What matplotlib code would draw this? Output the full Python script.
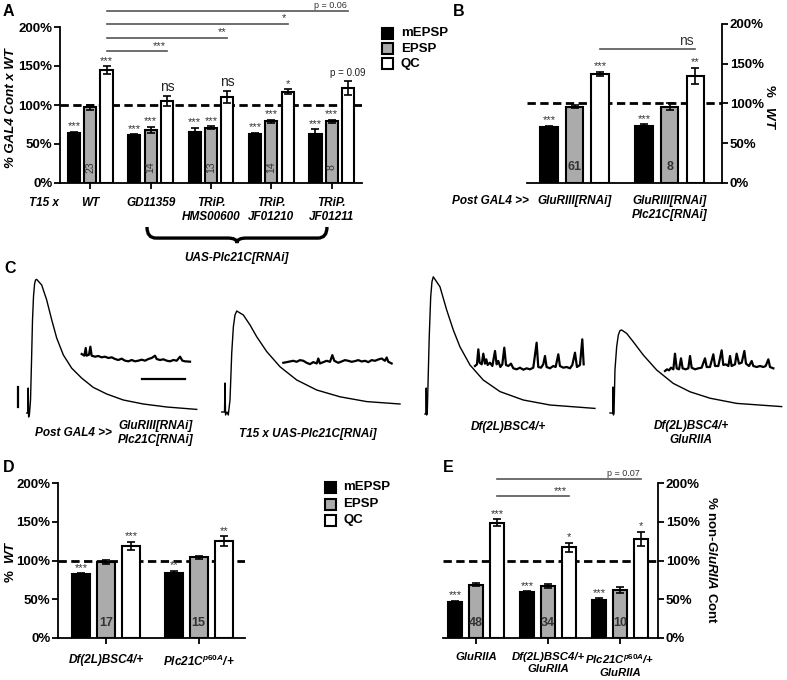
import numpy as np
import matplotlib
matplotlib.use('Agg')
import matplotlib.pyplot as plt
from matplotlib.path import Path
from matplotlib.patches import PathPatch, Rectangle
from matplotlib import transforms

plt.rcParams['font.family'] = ['Liberation Sans', 'DejaVu Sans']
plt.rcParams['font.weight'] = 'bold'
plt.rcParams['mathtext.fontset'] = 'custom'
plt.rcParams['mathtext.rm'] = 'Liberation Sans:bold'
plt.rcParams['mathtext.it'] = 'Liberation Sans:italic:bold'
plt.rcParams['mathtext.bf'] = 'Liberation Sans:bold'

# ---------------- data ----------------
series = ['mEPSP', 'EPSP', 'QC']
colors = ['black', '#ababab', 'white']
yticks = [0, 50, 100, 150, 200]
ytick_labels = ['0%', '50%', '100%', '150%', '200%']

# Panel A
A_groups = ['WT', 'GD11359', 'TRiP.\nHMS00600', 'TRiP.\nJF01210', 'TRiP.\nJF01211']
A_mepsp = [64, 61, 66, 63, 63]
A_mepsp_err = [2, 1.5, 5, 1.5, 6]
A_epsp = [97, 68, 71, 79, 79]
A_epsp_err = [3, 4, 2, 2, 2]
A_qc = [145, 105, 110, 117, 122]
A_qc_err = [5, 6, 8, 3, 9]
A_n = ['23', '14', '13', '14', '8']
A_sig_mepsp = ['***', '***', '***', '***', '***']
A_sig_epsp = [None, '***', '***', '***', '***']
A_sig_qc = ['***', 'ns', 'ns', '*', 'p = 0.09']
A_cmp_targets = [1, 2, 3, 4]
A_cmp_labels = ['***', '**', '*', 'p = 0.06']
A_cmp_heights = [169, 186, 204, 220]

# Panel B
B_groups = ['GluRIII[RNAi]', 'GluRIII[RNAi]\nPlc21C[RNAi]']
B_mepsp = [71, 72]
B_mepsp_err = [1, 2]
B_epsp = [96, 96]
B_epsp_err = [1.5, 4]
B_qc = [137, 135]
B_qc_err = [3, 10]
B_n = ['61', '8']
B_sig_mepsp = ['***', '***']
B_sig_epsp = [None, None]
B_sig_qc = ['***', '**']

# Panel D
D_groups = ['Df(2L)BSC4/+', r'Plc21C$^{\mathit{p60A}}$/+']
D_mepsp = [82, 84]
D_mepsp_err = [1.5, 3]
D_epsp = [98, 104]
D_epsp_err = [3, 2]
D_qc = [119, 125]
D_qc_err = [5, 6]
D_n = ['17', '15']
D_sig_mepsp = ['***', '**']
D_sig_epsp = [None, None]
D_sig_qc = ['***', '**']

# Panel E
E_groups = ['GluRIIA', 'Df(2L)BSC4/+\nGluRIIA', 'Plc21C$^{\\mathit{p60A}}$/+\nGluRIIA']
E_mepsp = [47, 59, 49]
E_mepsp_err = [1, 1.5, 2]
E_epsp = [69, 67, 62]
E_epsp_err = [1.5, 3, 4]
E_qc = [149, 117, 128]
E_qc_err = [4, 6, 9]
E_n = ['48', '34', '10']
E_sig_mepsp = ['***', '***', '***']
E_sig_epsp = [None, None, None]
E_sig_qc = ['***', '*', '*']

# Panel C traces: time (ms) from stimulus, voltage (mV) from baseline
tr1_t = [-1.5, -0.2, 0.2, 0.7, 1.7, 2.9, 4.1, 5.2, 6.4, 7.6, 8.7, 10.1, 15.9, 21.7, 27.6, 33.4, 41.1, 50.8, 62.5, 75.9, 91.5, 110.8, 134.1, 161.3, 196.2]
tr1_v = [0, 0, 6.25, -1.0, -0.25, 3.25, 13.25, 23.25, 29.25, 32.25, 33.25, 33.4, 32.0, 28.25, 23.25, 18.7, 14.5, 11.2, 8.7, 6.4, 4.75, 3.25, 2.25, 1.5, 0.9]
tr2_t = [-3.8, -0.6, 0.0, 0.6, 2.3, 3.8, 5.8, 7.8, 9.7, 11.6, 13.6, 21.3, 29.1, 36.9, 48.5, 64.0, 83.4, 106.6, 133.7, 164.8, 203.5]
tr2_v = [0, 0, 7.25, -0.75, 0, -0.75, 3.0, 14.75, 21.3, 24.25, 25.25, 24.25, 21.75, 18.8, 15.1, 11.3, 8.0, 5.5, 3.8, 2.6, 2.0]
tr3_t = [-1.2, -0.1, 0.3, 0.8, 1.5, 3.8, 5.5, 7.0, 8.5, 16.3, 24.1, 31.8, 39.5, 51.2, 66.6, 86.1, 113.2, 144.2, 196.5]
tr3_v = [0, 0, 6.5, -0.25, 0.2, 19.3, 29.3, 33.1, 34.3, 31.8, 26.0, 21.0, 16.8, 12.25, 8.5, 5.6, 3.5, 2.25, 1.4]
tr4_t = [-3.5, -0.3, 0.0, 0.5, 1.2, 2.3, 4.3, 6.2, 8.1, 10.1, 15.9, 23.6, 35.2, 50.8, 70.1, 89.6, 112.8, 143.9, 196.2]
tr4_v = [0, 0, 6.5, -0.5, 0, 10.75, 16.6, 19.5, 20.6, 20.75, 19.9, 17.8, 14.5, 10.75, 7.4, 5.3, 3.7, 2.4, 1.6]

mini1_t = [0, 3.1, 4.7, 5.8, 8.5, 10.1, 11.6, 15.5, 19.4, 23.3, 27.1, 31, 34.9, 38.8, 42.6, 46.5, 50.4, 54.3, 58.2, 62, 65.9, 69.8, 73.7, 77.5, 81.4, 85.3, 87.2, 91.1, 95, 98.9, 102.7, 106.6, 110.5, 114.4, 117.1, 120.2, 126]
mini1_v = [0, -0.42, 1.5, -0.42, -0.17, 1.83, -0.42, -0.67, -0.5, -0.83, -0.67, -1, -0.83, -1.25, -1.5, -1.17, -1.67, -1.83, -1.5, -1.83, -1.67, -1.42, -1.67, -1.25, -1, -0.42, -1.25, -1.5, -1.33, -1.67, -1.83, -1.5, -1.67, -0.67, -1.67, -1.83, -1.92]
mini2_t = [0, 5.8, 11.6, 15.5, 19.4, 23.3, 27.1, 31, 34.9, 38.8, 40.7, 42.6, 46.5, 50.4, 54.3, 57, 59.3, 63.9, 67.8, 71.7, 75.5, 79.4, 83.3, 87.2, 91.1, 95, 98.9, 102.7, 106.6, 110.5, 114.4, 118.2, 120.2, 122.1, 126]
mini2_v = [0, 0.25, 0.5, 0.25, 0.67, 0.5, 0, -0.33, 0.17, -0.17, 1.08, -0.17, 0.17, 0.5, 0.25, 1.92, 0.5, 0, 0.33, 0.67, 0.5, 0.25, 0.42, 0.67, 0.33, 0.5, 0.17, 0.67, 0.5, 0.83, 1.08, 0.5, 1.33, 0.25, -0.17]
mini3_t = [0, 2.3, 3.9, 5.4, 7.8, 9.7, 11.6, 13.2, 14.7, 17.4, 20.2, 23.3, 25.2, 27.1, 29.5, 31.8, 34.1, 36.1, 38.8, 41.9, 44.6, 48.5, 52.3, 56.2, 60.1, 64, 67.8, 71.7, 73.6, 76.8, 79.4, 81.4, 83.3, 87.2, 91.1, 93.8, 96.9, 98.8, 102.7, 106.6, 110.5, 113.2, 116.3, 118.6, 122.1, 124.8, 126.4]
mini3_v = [0, 0.42, 4.17, 0.83, 0.42, 3.08, 0.58, 1.67, 0.25, 0.83, 0, 3.75, 0.42, 1.25, -0.25, 0.42, 4.58, 0.25, 0, 0.58, -0.58, -0.83, -0.42, -0.92, -0.58, -0.83, -0.42, 5.83, -0.25, -0.42, 0.42, 2.5, -0.25, -0.58, 0, -0.25, 2.92, 0, -0.42, -0.25, -0.58, 0.25, 3.33, -0.25, 0.25, 6.67, 0.42]
mini4_t = [0, 2.3, 4.7, 7, 9.7, 11.6, 13.6, 16.3, 18.6, 20.5, 24, 27.1, 29.1, 31, 34.9, 38.8, 42.6, 46.5, 48.5, 52.3, 56.2, 58.2, 62, 65.9, 67.8, 70.6, 73.7, 75.6, 77.5, 81.4, 83.3, 86.1, 89.2, 92.3, 94.2, 97.7, 100.8, 102.7, 106.6, 110.5, 114.4, 117.1, 120.2, 122.1, 126]
mini4_v = [0, 0.42, 0.17, 0.83, 0.42, 4.33, 0.67, 0.42, 3.17, 0.67, 0.42, 0.67, 3.75, 0.83, 0.42, 0.67, 0.83, 3.17, 1, 1, 4.17, 1.25, 1.25, 5.17, 1.5, 1.67, 1.25, 3.75, 1.25, 1.67, 4.33, 1.83, 2.08, 5, 1.83, 1.25, 2.5, 1.25, 1, 1.25, 1, 1.25, 2.92, 1, 0.67]
scale_mv = 5      # vertical scale bar (mV)
scale_ms = 50     # horizontal scale bar (ms)

# ---------------- layout helpers ----------------
W, H = 787, 680
fig = plt.figure(figsize=(W / 100, H / 100), dpi=100)


def px_axes(x0, y0, x1, y1):
    return fig.add_axes([x0 / W, 1 - y1 / H, (x1 - x0) / W, (y1 - y0) / H])


def ftext(x, y, s, **kw):
    return fig.text(x / W, 1 - y / H, s, **kw)


def style_axis(ax, right=False, xticks=True):
    ax.set_ylim(0, 200)
    ax.set_yticks(yticks)
    ax.set_yticklabels(ytick_labels, fontsize=9.5, fontweight='bold')
    ax.spines['top'].set_visible(False)
    if right:
        ax.spines['left'].set_visible(False)
        ax.yaxis.tick_right()
    else:
        ax.spines['right'].set_visible(False)
    for s in ['left', 'right', 'bottom']:
        ax.spines[s].set_linewidth(1.3)
    ax.tick_params(axis='y', direction='out', length=4, width=1.3, pad=1.5)
    ax.tick_params(axis='x', direction='out', length=4 if xticks else 0, width=1.3, labelbottom=False)
    ax.axhline(100, color='black', lw=2.0, ls=(0, (3, 1.6)), zorder=2)


def draw_bars(ax, vals, errs, sigs, offsets, width, nlabels, nrot, nfs, sigfs=8):
    n = len(vals[0])
    x = np.arange(n)
    for k in range(3):
        xs = x + offsets[k]
        ax.bar(xs, vals[k], width, color=colors[k], edgecolor='black', lw=1.5, zorder=3)
        ax.errorbar(xs, vals[k], yerr=errs[k], fmt='none', ecolor='black', elinewidth=1.2,
                    capsize=3, capthick=1.2, zorder=4)
        for i in range(n):
            s = sigs[k][i]
            if s is None:
                continue
            top = vals[k][i] + errs[k][i]
            if s == 'ns':
                ax.text(xs[i], top + 3, s, ha='center', va='bottom', fontsize=10,
                        fontweight='normal', color='#222222', zorder=5)
            elif s.startswith('p'):
                ax.text(xs[i], top + 3, s, ha='center', va='bottom', fontsize=7,
                        fontweight='normal', color='#222222', zorder=5)
            else:
                ax.text(xs[i], top + 0.5, s, ha='center', va='bottom', fontsize=sigfs,
                        fontweight='normal', color='#333333', zorder=5)
    for i in range(n):
        ax.text(x[i] + offsets[1], 20, nlabels[i], ha='center', va='center', rotation=nrot,
                fontsize=nfs, fontweight='bold' if nrot == 0 else 'normal', color='#333333', zorder=5)
    ax.set_xticks(x + offsets[1])


def group_labels(ax, labels, xs, y, fs=8.5):
    tr = transforms.blended_transform_factory(ax.transData, ax.transAxes)
    for xx, lab in zip(xs, labels):
        ax.text(xx, y, lab, transform=tr, ha='center', va='top', fontsize=fs,
                fontweight='bold', fontstyle='italic', linespacing=1.25, clip_on=False)


def cmp_line(ax, x0, x1, y, label, fs=8, weight='normal', dy=1.0):
    ax.plot([x0, x1], [y, y], color='#555555', lw=1.2, clip_on=False, zorder=5)
    ax.text(x1 - 0.02, y + dy, label, ha='right', va='bottom', fontsize=fs,
            fontweight=weight, color='#333333', clip_on=False)


# ---------------- Panel A ----------------
axA = px_axes(60, 27, 362, 183)
style_axis(axA)
offA = [-0.27, 0.0, 0.27]
draw_bars(axA, [A_mepsp, A_epsp, A_qc], [A_mepsp_err, A_epsp_err, A_qc_err],
          [A_sig_mepsp, A_sig_epsp, A_sig_qc], offA, 0.2, A_n, 90, 7.5)
axA.set_xlim(-0.5, 4.5)
group_labels(axA, A_groups, np.arange(5), -0.09)
trA = transforms.blended_transform_factory(axA.transData, axA.transAxes)
axA.text(-0.76, -0.09, 'T15 x', transform=trA, ha='center', va='top', fontsize=8.5,
         fontweight='bold', fontstyle='italic', clip_on=False)
for tgt, lab, hgt in zip(A_cmp_targets, A_cmp_labels, A_cmp_heights):
    cmp_line(axA, 0 + offA[2], tgt + offA[2], hgt, lab,
             fs=8 if lab.startswith('*') else 6.5, dy=0.5 if lab.startswith('*') else 1.5)
# brace
bx0, bx1, bxc, d = 0.94, 3.92, 2.43, 0.15
yt, ym, yb = -0.282, -0.353, -0.385
verts = [(bx0, yt), (bx0, ym), (bx0 + d, ym), (bxc - d, ym), (bxc, ym), (bxc, yb),
         (bxc, ym), (bxc + d, ym), (bx1 - d, ym), (bx1, ym), (bx1, yt)]
codes = [Path.MOVETO, Path.CURVE3, Path.CURVE3, Path.LINETO, Path.CURVE3, Path.CURVE3,
         Path.CURVE3, Path.CURVE3, Path.LINETO, Path.CURVE3, Path.CURVE3]
axA.add_patch(PathPatch(Path(verts, codes), transform=trA, fill=False, lw=2.4,
                        edgecolor='black', clip_on=False))
axA.text(bxc, -0.48, 'UAS-Plc21C[RNAi]', transform=trA, ha='center', va='center', fontsize=8.5,
         fontweight='bold', fontstyle='italic', clip_on=False)
axA.set_xlim(-0.5, 4.5)
axA.set_ylim(0, 200)
ftext(11, 108, '% GAL4 Cont x WT', rotation=90, ha='center', va='center', fontsize=9.5,
      fontweight='bold', fontstyle='italic')

# legend A
for k, lab in enumerate(series):
    fig.patches.append(Rectangle((382 / W, 1 - (28 + 15 * k + 11) / H), 11 / W, 11 / H,
                                 transform=fig.transFigure, facecolor=colors[k],
                                 edgecolor='black', lw=1.5))
    ftext(401, 33.5 + 15 * k, lab, ha='left', va='center', fontsize=9.5, fontweight='bold')

# ---------------- Panel B ----------------
axB = px_axes(527, 24, 722, 183)
style_axis(axB, right=True, xticks=False)
offB = [-0.27, 0.0, 0.27]
draw_bars(axB, [B_mepsp, B_epsp, B_qc], [B_mepsp_err, B_epsp_err, B_qc_err],
          [B_sig_mepsp, B_sig_epsp, B_sig_qc], offB, 0.185, B_n, 0, 9)
axB.set_xlim(-0.5, 1.55)
axB.set_ylim(0, 200)
group_labels(axB, B_groups, np.arange(2), -0.075)
trB = transforms.blended_transform_factory(axB.transData, axB.transAxes)
axB.text(-0.48, -0.075, 'Post GAL4 >>', transform=trB, ha='right', va='top', fontsize=8.5,
         fontweight='bold', fontstyle='italic', clip_on=False)
cmp_line(axB, offB[2], 1 + offB[2], 168, 'ns', fs=10, dy=2)
ftext(770, 107, r'%   $\mathit{WT}$', rotation=-90, ha='center', va='center', fontsize=9.5,
      fontweight='bold')

# ---------------- Panel C ----------------
axC = px_axes(0, 270, 787, 420)
axC.set_xlim(0, W * 1.163)
axC.set_ylim(0, 37.5)
axC.axis('off')
traces = [(tr1_t, tr1_v, 32.6, 1.75), (tr2_t, tr2_v, 261.7, 2.0),
          (tr3_t, tr3_v, 495.4, 1.5), (tr4_t, tr4_v, 712.9, 1.75)]
for t, v, t0, v0 in traces:
    axC.plot(np.array(t) + t0, np.array(v) + v0, color='black', lw=1.0)
minis = [(mini1_t, mini1_v, 95.0, 16.5), (mini2_t, mini2_v, 329.5, 14.3),
         (mini3_t, mini3_v, 552.4, 13.5), (mini4_t, mini4_v, 773.4, 12.25)]
for t, v, t0, v0 in minis:
    axC.plot(np.array(t) + t0, np.array(v) + v0, color='black', lw=1.6)
axC.plot([20.9, 20.9], [3.25, 3.25 + scale_mv], color='black', lw=1.6)
axC.plot([165.1, 165.1 + scale_ms], [10.25, 10.25], color='black', lw=1.6)

cl = dict(fontsize=8.5, fontweight='bold', fontstyle='italic', va='center', linespacing=1.25)
ftext(112, 433, 'Post GAL4 >>', ha='right', **cl)
ftext(156, 433, 'GluRIII[RNAi]\nPlc21C[RNAi]', ha='center', **cl)
ftext(308, 434, 'T15 x UAS-Plc21C[RNAi]', ha='center', **cl)
ftext(508, 427, 'Df(2L)BSC4/+', ha='center', **cl)
ftext(691, 433, 'Df(2L)BSC4/+\nGluRIIA', ha='center', **cl)

# ---------------- Panel D ----------------
axD = px_axes(58, 483, 245, 638)
style_axis(axD)
offD = [-0.27, 0.0, 0.27]
draw_bars(axD, [D_mepsp, D_epsp, D_qc], [D_mepsp_err, D_epsp_err, D_qc_err],
          [D_sig_mepsp, D_sig_epsp, D_sig_qc], offD, 0.19, D_n, 0, 9)
axD.set_xlim(-0.52, 1.5)
axD.set_ylim(0, 200)
group_labels(axD, D_groups, np.arange(2), -0.1)
ftext(11, 562, r'%  $\mathit{WT}$', rotation=90, ha='center', va='center', fontsize=9.5,
      fontweight='bold')
for k, lab in enumerate(series):
    fig.patches.append(Rectangle((325 / W, 1 - (482 + 16.5 * k + 11) / H), 11 / W, 11 / H,
                                 transform=fig.transFigure, facecolor=colors[k],
                                 edgecolor='black', lw=1.5))
    ftext(343, 487.5 + 16.5 * k, lab, ha='left', va='center', fontsize=9.5, fontweight='bold')

# ---------------- Panel E ----------------
axE = px_axes(443, 483, 658, 638)
style_axis(axE, right=True)
offE = [-0.29, 0.0, 0.29]
draw_bars(axE, [E_mepsp, E_epsp, E_qc], [E_mepsp_err, E_epsp_err, E_qc_err],
          [E_sig_mepsp, E_sig_epsp, E_sig_qc], offE, 0.19, E_n, 0, 9)
axE.set_xlim(-0.46, 2.53)
axE.set_ylim(0, 200)
group_labels(axE, E_groups, np.arange(3), -0.09, fs=8.2)
cmp_line(axE, offE[2], 1 + offE[2], 183, '***', dy=0.5)
cmp_line(axE, offE[2], 2 + offE[2], 205, 'p = 0.07', fs=6.5, dy=1.5)
ftext(712, 560, r'% non-$\mathit{GluRIIA}$ Cont', rotation=-90, ha='center', va='center',
      fontsize=9.5, fontweight='bold')

# panel letters
for lab, (x, y) in zip('ABCDE', [(3, 12), (453, 11), (4, 269), (3, 467), (443, 467)]):
    ftext(x, y, lab, ha='left', va='center', fontsize=11.5, fontweight='bold')

fig.savefig('out.png', dpi=100)
